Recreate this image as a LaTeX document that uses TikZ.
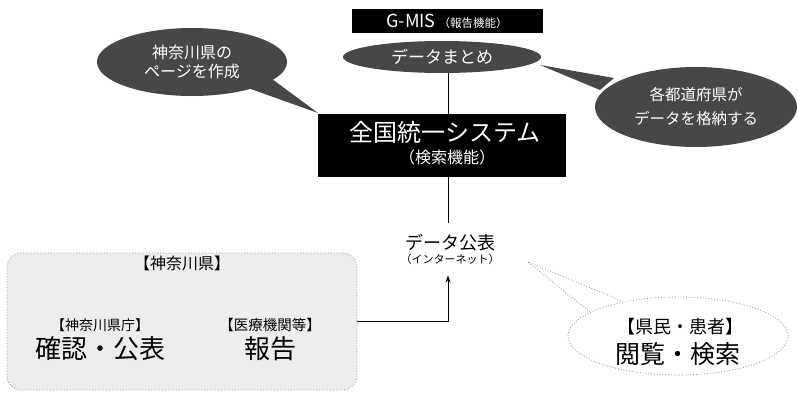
\documentclass[tikz,border=0pt]{standalone}
\usepackage{fontspec}
\setmainfont{Noto Sans CJK JP}
\usetikzlibrary{shapes.geometric,arrows.meta,calc}
\newcommand{\fsz}[2]{\fontsize{#1}{#2}\selectfont}
\begin{document}
\begin{tikzpicture}[x=1pt,y=-1pt,
  blackbox/.style={draw=black,fill=black,text=white,inner sep=0pt},
  darkbub/.style={fill=black!72,text=white,ellipse,inner sep=0pt,align=center},
  dotbox/.style={draw=black!45,dotted,line width=0.8pt,rounded corners=14pt,fill=black!7},
  dotell/.style={draw=black!45,dotted,line width=0.8pt,ellipse,inner sep=0pt,align=center},
  conn/.style={draw=black,line width=0.9pt},
  plain/.style={inner sep=0pt,align=center}]
\useasboundingbox (0,0) rectangle (798,394);

% top G-MIS
\node[blackbox,minimum width=190pt,minimum height=23pt] (gmis) at (447,21)
  {\fsz{18}{20}G-MIS\,{\fsz{11.5}{13}（報告機能）}};
\node[darkbub,minimum width=198pt,minimum height=32pt,font=\fsz{17}{20}] (matome) at (442,57)
  {データまとめ};

% main system box
\node[blackbox,minimum width=247pt,minimum height=62pt] (zenkoku) at (441.5,145) {};
\node[plain,text=white,font=\fsz{24}{28}] (zktitle) at (445,132) {全国統一システム};
\node[plain,text=white,font=\fsz{16}{18}] (zksub) at (447,157) {（検索機能）};

% left bubble
\fill[black!72] (248,88) -- (318,113) -- (268,76) -- cycle;
\node[darkbub,minimum width=190pt,minimum height=68pt,font=\fsz{16}{19}] (lbub) at (192,62)
  {神奈川県の\\ページを作成};

% right bubble
\fill[black!72] (600,90) -- (540,65) -- (614,78) -- cycle;
\node[darkbub,minimum width=202pt,minimum height=80pt,font=\fsz{15.5}{24}] (rbub) at (696,107)
  {各都道府県が\\データを格納する};

% data publication
\node[plain,font=\fsz{18}{20}] (kohyo) at (450,243) {データ公表};
\node[plain,font=\fsz{11}{12}] (inet) at (450,259) {（インターネット）};
\coordinate (vx) at (448,0);

% Kanagawa region
\node[dotbox,minimum width=350pt,minimum height=137pt] (kanagawa) at (182,321.5) {};
\node[plain,font=\fsz{16}{18}] (kentitle) at (182,263) {【神奈川県】};
\node[plain,font=\fsz{14}{16}] (kencho) at (100,325) {【神奈川県庁】};
\node[plain,font=\fsz{26}{28}] (kakunin) at (100,349) {確認・公表};
\node[plain,font=\fsz{14.5}{16}] (iryo) at (270,325) {【医療機関等】};
\node[plain,font=\fsz{26}{28}] (hokoku) at (270,349) {報告};

% citizens ellipse
\node[dotell,minimum width=220pt,minimum height=78pt] (kenmin) at (678,336) {};
\draw[black!45,dotted,line width=0.8pt] (590,312) -- (528,262) -- (622,301);
\node[plain,font=\fsz{18}{20}] (kmtitle) at (680,327) {【県民・患者】};
\node[plain,font=\fsz{25}{28}] (etsuran) at (678,354) {閲覧・検索};

% connectors
\draw[conn] (matome.south -| vx) -- (zenkoku.north -| vx);
\draw[conn] (zenkoku.south -| vx) -- ($(kohyo.north -| vx)+(0,-11)$);
\draw[conn,-{Stealth[length=7pt,width=5pt]},shorten >=11pt] (kanagawa.east) -| (inet.south -| vx);
\end{tikzpicture}
\end{document}
